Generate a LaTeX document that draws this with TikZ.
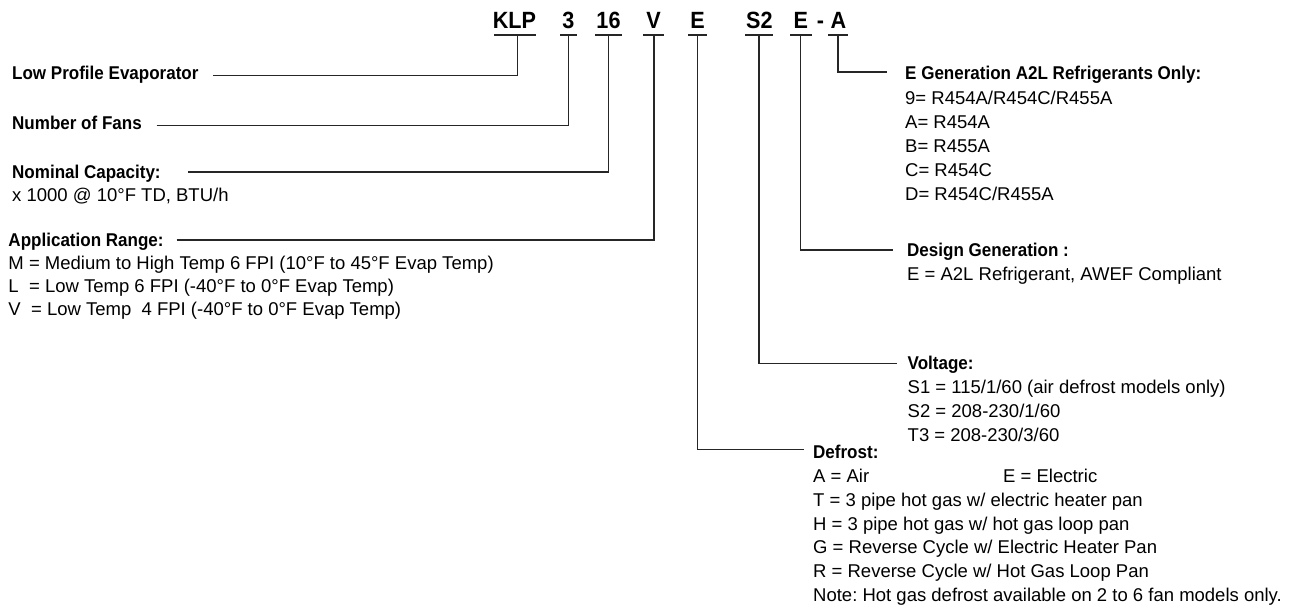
\documentclass[tikz,border=0pt]{standalone}
\usepackage{fontspec}
\setmainfont{Liberation Sans}[BoldFeatures={FakeStretch=0.92}]
\frenchspacing
\begin{document}
\begin{tikzpicture}[x=1pt,y=-1pt]
\tikzset{
  code/.style={font=\fontsize{23.5}{24}\selectfont\bfseries, inner sep=0pt, anchor=base, text=black},
  ttl/.style={font=\fontsize{18.5}{24}\selectfont\bfseries, inner sep=0pt, anchor=base west, text=black},
  txt/.style={font=\fontsize{18.5}{24}\selectfont, inner sep=0pt, anchor=base west, text=black},
  ln/.style={line width=1.2pt, draw=black!85},
}
\useasboundingbox (0,0) rectangle (1294,610);
\fill[white] (0,0) rectangle (1294,610);

% model code
\node[code] (cKLP) at (514.5,28.3) {KLP};
\node[code] (c3) at (568.5,28.3) {3};
\node[code] (c16) at (608.5,28.3) {16};
\node[code] (cV) at (653.5,28.3) {V};
\node[code] (cE1) at (697.5,28.3) {E};
\node[code] (cS2) at (759.3,28.3) {S2};
\node[code] (cE2) at (800.8,28.3) {E};
\node[code] (cdash) at (820.5,28.3) {-};
\node[code] (cA) at (838.3,28.3) {A};

% underlines
\draw[ln] (494,35) -- (536,35);
\draw[ln] (560,35) -- (577,35);
\draw[ln] (595,35) -- (622,35);
\draw[ln] (643,35) -- (664,35);
\draw[ln] (688,35) -- (707,35);
\draw[ln] (745,35) -- (773,35);
\draw[ln] (790,35) -- (812,35);
\draw[ln] (828,35) -- (848,35);

\coordinate (uKLP) at (517.5,35);
\coordinate (u3) at (568.7,35);
\coordinate (u16) at (608.3,35);
\coordinate (uV) at (654,35);
\coordinate (uE1) at (697.5,35);
\coordinate (uS2) at (759,35);
\coordinate (uE2) at (800.7,35);
\coordinate (uA) at (838,35);

% left descriptions
\node[ttl] (tLPE) at (12,80) {Low Profile Evaporator};
\node[ttl] (tNF) at (12,129.6) {Number of Fans};
\node[ttl] (tNC) at (12,178) {Nominal Capacity:};
\node[txt] (tNC1) at (12,201.6) {x 1000 @ 10°F TD, BTU/h};
\node[ttl] (tAR) at (8.3,246.6) {Application Range:};
\node[txt] (tAR1) at (8.3,269.3) {M = Medium to High Temp 6 FPI (10°F to 45°F Evap Temp)};
\node[txt] (tAR2) at (8.3,292.3) {L\ \ = Low Temp 6 FPI (-40°F to 0°F Evap Temp)};
\node[txt] (tAR3) at (8.3,315) {V\ \ = Low Temp\ \ 4 FPI (-40°F to 0°F Evap Temp)};

\coordinate (eLPE) at (213,75.5);
\coordinate (eNF) at (156.7,125.5);
\coordinate (eNC) at (188,172);
\coordinate (eAR) at (176.7,240);

% right descriptions
\node[ttl] (tEG) at (905,80) {E Generation A2L Refrigerants Only:};
\node[txt] (tEG1) at (905,104.1) {9= R454A/R454C/R455A};
\node[txt] (tEG2) at (905,128.2) {A= R454A};
\node[txt] (tEG3) at (905,152.3) {B= R455A};
\node[txt] (tEG4) at (905,176.4) {C= R454C};
\node[txt] (tEG5) at (905,200.5) {D= R454C/R455A};

\node[ttl] (tDG) at (907,256.6) {Design Generation :};
\node[txt] (tDG1) at (907,280.2) {E = A2L Refrigerant, AWEF Compliant};

\node[ttl] (tVO) at (907.5,369.5) {Voltage:};
\node[txt] (tVO1) at (907.5,393.6) {S1 = 115/1/60 (air defrost models only)};
\node[txt] (tVO2) at (907.5,417.6) {S2 = 208-230/1/60};
\node[txt] (tVO3) at (907.5,441.6) {T3 = 208-230/3/60};

\node[ttl] (tDF) at (813,458.3) {Defrost:};
\node[txt] (tDF1) at (813,482.2) {A = Air};
\node[txt] (tDF1b) at (1003,482.2) {E = Electric};
\node[txt] (tDF2) at (813,506.1) {T = 3 pipe hot gas w/ electric heater pan};
\node[txt] (tDF3) at (813,530) {H = 3 pipe hot gas w/ hot gas loop pan};
\node[txt] (tDF4) at (813,553.9) {G = Reverse Cycle w/ Electric Heater Pan};
\node[txt] (tDF5) at (813,577.8) {R = Reverse Cycle w/ Hot Gas Loop Pan};
\node[txt] (tDF6) at (813,601.7) {Note: Hot gas defrost available on 2 to 6 fan models only.};

\coordinate (eEG) at (886.7,72);
\coordinate (eDG) at (893.3,250);
\coordinate (eVO) at (896.7,363.3);
\coordinate (eDF) at (804,449.3);

% connectors
\draw[ln] (eLPE) -| (uKLP);
\draw[ln] (eNF) -| (u3);
\draw[ln] (eNC) -| (u16);
\draw[ln] (eAR) -| (uV);
\draw[ln] (uE1) |- (eDF);
\draw[ln] (uS2) |- (eVO);
\draw[ln] (uE2) |- (eDG);
\draw[ln] (uA) |- (eEG);
\end{tikzpicture}
\end{document}
